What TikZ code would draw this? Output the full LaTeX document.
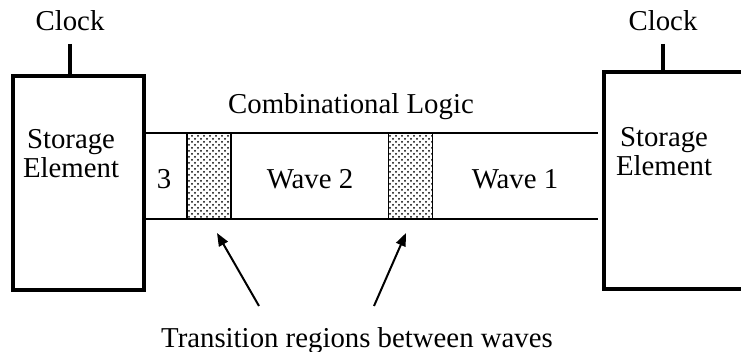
\documentclass[tikz,border=0pt]{standalone}
\usepackage{fontspec}
\setmainfont{Liberation Serif}
\usepackage{tikz}
\usetikzlibrary{arrows.meta, positioning, patterns, calc}

\begin{document}
\begin{tikzpicture}[
    x=0.5pt, y=-0.5pt,
    font=\fontsize{14.4}{14.5}\selectfont,
    storage/.style={rectangle, draw, line width=1.8pt, align=center, inner sep=0pt},
    trans/.style={rectangle, draw, line width=0.8pt, pattern=crosshatch dots, pattern color=black, minimum width=22pt, minimum height=43pt, inner sep=0pt},
    label/.style={inner sep=0pt, align=center},
    wire/.style={line width=1pt},
    clockline/.style={line width=1.6pt},
    arrow/.style={-{Triangle[length=6.5pt, width=5pt]}, line width=1pt}
]
    \useasboundingbox (0,0) rectangle (741,352);
    \clip (0,0) rectangle (741,352);

    % storage elements
    \node[storage, minimum width=65.5pt, minimum height=107pt] (lbox) at (78.5,183) {};
    \node[storage, minimum width=80pt, minimum height=108.5pt] (rbox) at (684,180.5) {};
    \node[label] (ltext) at (71,154) {Storage\\Element};
    \node[label] (rtext) at (664,152) {Storage\\Element};

    % clocks
    \node[label] (lclock) at (70,21) {Clock};
    \node[label] (rclock) at (663,21) {Clock};
    \coordinate (lclk) at (70,44);
    \coordinate (rclk) at (663,44);
    \draw[clockline] (lclk) -- (lclk |- lbox.north);
    \draw[clockline] (rclk) -- (rclk |- rbox.north);

    % combinational logic channel
    \coordinate (ctop) at (598,133);
    \coordinate (cbot) at (598,219);
    \draw[wire] (lbox.east |- ctop) -- (ctop);
    \draw[wire] (lbox.east |- cbot) -- (cbot);
    \node[label] (logic) at (351,107) {Combinational Logic};

    % waves
    \node[trans] (trans1) at (209,176) {};
    \node[trans] (trans2) at (410.5,176) {};
    \node[label] (wave3) at (164,179) {3};
    \node[label] (wave2) at (310,179) {Wave 2};
    \node[label] (wave1) at (515,179) {Wave 1};

    % transition labels
    \node[label] (tlabel) at (357,341) {Transition regions between waves};
    \coordinate (tail1) at (259,306);
    \coordinate (tail2) at (374,306);
    \coordinate (tip1) at (217,233);
    \coordinate (tip2) at (406,233);
    \draw[arrow] (tail1) -- (tip1);
    \draw[arrow] (tail2) -- (tip2);
\end{tikzpicture}
\end{document}
